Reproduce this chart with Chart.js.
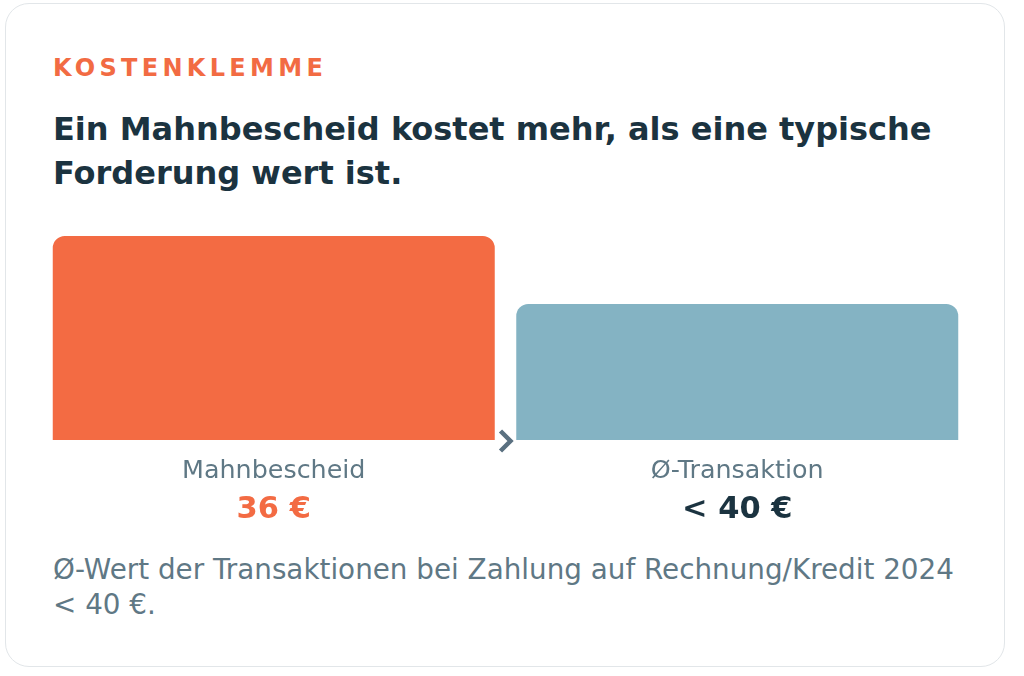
<!DOCTYPE html>
<html>
<head>
<meta charset="utf-8">
<script src="https://cdn.jsdelivr.net/npm/chart.js@4.4.1/dist/chart.umd.min.js"></script>
<style>
  html, body { margin:0; padding:0; background:#ffffff; width:1024px; height:676px; overflow:hidden; font-family:"DejaVu Sans", sans-serif; }
  .card { position:absolute; left:5px; top:3px; width:998px; height:662px; border:1.5px solid #e2e6e9; border-radius:24px; background:#fff; }
  .kicker { position:absolute; left:53px; top:56px; font-size:24px; line-height:24px; font-weight:bold; letter-spacing:4.3px; color:#f26b43; white-space:nowrap; }
  .title { position:absolute; left:53px; top:107px; width:960px; font-size:32px; font-weight:bold; line-height:44px; color:#1b3340; white-space:nowrap; }
  .note { position:absolute; left:53px; top:552px; width:960px; font-size:27.8px; line-height:35px; color:#5f7885; white-space:nowrap; }
  #wrap { position:absolute; left:42px; top:226px; width:927px; height:310px; }
</style>
</head>
<body>
<div class="card"></div>
<div class="kicker">KOSTENKLEMME</div>
<div class="title">Ein Mahnbescheid kostet mehr, als eine typische<br>Forderung wert ist.</div>
<div id="wrap"><canvas id="c" width="927" height="310"></canvas></div>
<div class="note">Ø-Wert der Transaktionen bei Zahlung auf Rechnung/Kredit 2024<br>&lt; 40 €.</div>
<script>
const categories = ["Mahnbescheid", "Ø-Transaktion"];
const values = [36, 24];
const valueLabels = ["36 €", "< 40 €"];
const barColors = ["#f36b43", "#84b3c3"];
const valueColors = ["#f36b43", "#1b3340"];

const labelPlugin = {
  id: "labels",
  afterDatasetsDraw(chart) {
    const ctx = chart.ctx;
    const xs = chart.scales.x;
    const area = chart.chartArea;
    ctx.save();
    ctx.textAlign = "center";
    ctx.textBaseline = "alphabetic";
    categories.forEach((c, i) => {
      const x = xs.getPixelForValue(i);
      ctx.fillStyle = "#5f7885";
      ctx.font = "25.4px 'DejaVu Sans'";
      ctx.fillText(c, x, area.bottom + 38);
      ctx.fillStyle = valueColors[i];
      ctx.font = "bold 30.5px 'DejaVu Sans'";
      ctx.fillText(valueLabels[i], x, area.bottom + 78);
    });
    // chevron between bars at baseline
    const mx = (area.left + area.right) / 2;
    const by = area.bottom;
    ctx.strokeStyle = "#5a7080";
    ctx.lineWidth = 4.5;
    ctx.lineCap = "butt";
    ctx.lineJoin = "miter";
    ctx.beginPath();
    ctx.moveTo(mx - 5, by - 9);
    ctx.lineTo(mx + 5, by + 1);
    ctx.lineTo(mx - 5, by + 11);
    ctx.stroke();
    ctx.restore();
  }
};

new Chart(document.getElementById("c"), {
  type: "bar",
  data: {
    labels: categories,
    datasets: [{
      data: values,
      backgroundColor: barColors,
      borderWidth: 0,
      borderRadius: { topLeft: 12, topRight: 12, bottomLeft: 0, bottomRight: 0 },
      borderSkipped: "bottom",
      barPercentage: 0.9536,
      categoryPercentage: 1
    }]
  },
  options: {
    responsive: false,
    animation: false,
    layout: { padding: { top: 10, bottom: 96, left: 0, right: 0 } },
    plugins: { legend: { display: false }, tooltip: { enabled: false } },
    scales: {
      x: { display: false },
      y: { display: false, min: 0, max: 36 }
    }
  },
  plugins: [labelPlugin]
});
</script>
</body>
</html>
